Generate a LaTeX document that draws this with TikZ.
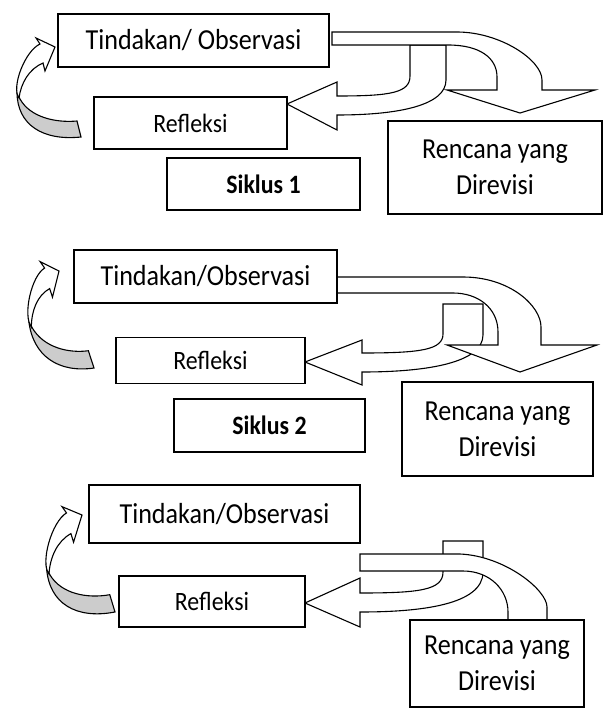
\documentclass[tikz,border=0pt]{standalone}
\usepackage{fontspec}
\setmainfont{Carlito}[FakeStretch=0.9]
\newcommand\loopshape{%
  \path[arr, fill=gray!40] (-38,45) .. controls (-38,78) and (-12,94) .. (26,90) -- (22,74) .. controls (0,76) and (-25,70) .. (-35,52) -- cycle;
  \path[arr] (-15,-3) .. controls (-30,4) and (-44,40) .. (-36,51) .. controls (-34,36) and (-26,22) .. (-12,16) -- (-10,24) -- (0,0) -- (-19,-9) -- cycle;
}
\begin{document}
\begin{tikzpicture}[x=1pt,y=-1pt,
  box/.style={draw, line width=1.5pt, fill=white, inner sep=0pt, align=center},
  arr/.style={draw, line width=1.1pt, fill=white, line join=miter},
  bigtxt/.style={font=\fontsize{29}{36}\selectfont},
  smalltxt/.style={font=\fontsize{26.5}{30}\selectfont},
  boldtxt/.style={font=\fontsize{26.5}{30}\selectfont\bfseries}]
\useasboundingbox (0,0) rectangle (606,709);

% ---------- cycle 1 arrows ----------
\begin{scope}[shift={(55,47)}] \loopshape \end{scope}
\path[arr] (410,45) -- (410,76) .. controls (410,93) and (390,96) .. (337,96) -- (337,82) -- (287,104) -- (337,130) -- (337,115) .. controls (400,115) and (446,105) .. (446,80) -- (446,45) -- cycle;
\path[arr] (332,32) -- (457,32) .. controls (500,32) and (542,60) .. (542,80) -- (542,90) -- (595,90) -- (520,113) -- (447,90) -- (497,90) -- (497,77) .. controls (497,58) and (480,45) .. (448,45) -- (332,45) -- cycle;

% ---------- cycle 2 arrows ----------
\begin{scope}[shift={(59,271)}, cm={0.936,0.021,-0.1185,1.084,(0,0)}] \loopshape \end{scope}
\path[arr] (443,304) -- (443,334) .. controls (443,350) and (420,353) .. (362,353) -- (362,340) -- (305,362) -- (362,385) -- (362,372) .. controls (430,372) and (483,362) .. (483,335) -- (483,304) -- cycle;
\path[arr] (337,277) -- (463,277) .. controls (510,277) and (541,306) .. (541,327) -- (541,345) -- (597,345) -- (520,372) -- (447,345) -- (498,345) -- (498,332) .. controls (498,308) and (478,293) .. (453,293) -- (337,293) -- cycle;

% ---------- cycle 3 arrows ----------
\begin{scope}[shift={(82,515)}, cm={1.019,0.081,-0.0723,1.101,(0,0)}] \loopshape \end{scope}
\path[arr] (443,541) -- (483,541) -- (483,572) .. controls (483,605) and (420,612) .. (360,612) -- (360,627) -- (305,603) -- (360,578) -- (360,593) .. controls (420,593) and (443,590) .. (443,572) -- cycle;
\path[arr] (360,554) -- (460,554) .. controls (505,556) and (547,590) .. (547,607) -- (547,620) -- (508,620) -- (508,612) .. controls (508,590) and (490,571) .. (463,571) -- (360,571) -- cycle;

% ---------- boxes ----------
\node[box, bigtxt, minimum width=271pt, minimum height=53pt] (t1) at (193.5,40.5) {Tindakan/ Observasi};
\node[box, smalltxt, minimum width=193pt, minimum height=52pt] (r1) at (190.5,123) {Refleksi};
\node[box, boldtxt, minimum width=193pt, minimum height=52pt] (s1) at (263.5,184) {Siklus 1};
\node[box, bigtxt, minimum width=214pt, minimum height=93pt] (p1) at (495,167.5) {Rencana yang\\Direvisi};

\node[box, bigtxt, minimum width=263pt, minimum height=53pt] (t2) at (205.5,276.5) {Tindakan/Observasi};
\node[box, smalltxt, minimum width=189pt, minimum height=46pt] (r2) at (210.5,360.5) {Refleksi};
\node[box, boldtxt, minimum width=191pt, minimum height=53pt] (s2) at (269.5,425.5) {Siklus 2};
\node[box, bigtxt, minimum width=191pt, minimum height=94pt] (p2) at (497.5,429) {Rencana yang\\Direvisi};

\node[box, bigtxt, minimum width=271pt, minimum height=58pt] (t3) at (224.5,514) {Tindakan/Observasi};
\node[box, smalltxt, minimum width=186pt, minimum height=51pt] (r3) at (212,601.5) {Refleksi};
\node[box, bigtxt, minimum width=174pt, minimum height=87pt] (p3) at (497,663.5) {Rencana yang\\Direvisi};
\end{tikzpicture}
\end{document}
